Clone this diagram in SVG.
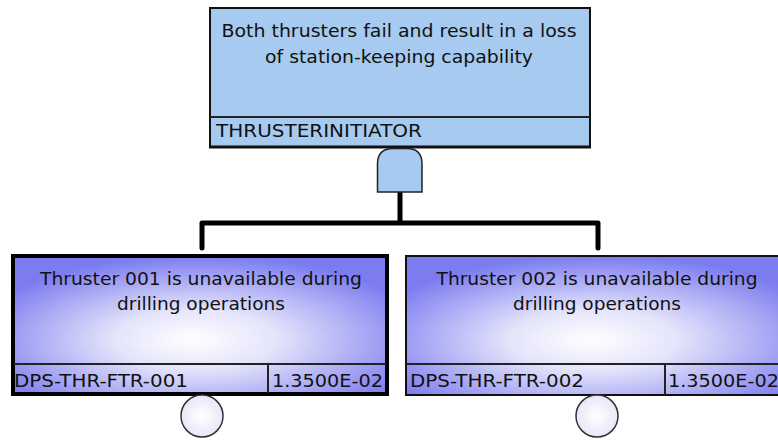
<svg xmlns="http://www.w3.org/2000/svg" width="778" height="440" viewBox="0 0 778 440">
  <defs>
    <radialGradient id="eventFill" cx="0.5" cy="0.62" r="0.62" fx="0.48" fy="0.6">
      <stop offset="0" stop-color="#ffffff"/>
      <stop offset="0.35" stop-color="#e4e4fb"/>
      <stop offset="1" stop-color="#7c7cf0"/>
    </radialGradient>
    <radialGradient id="basicFill" cx="0.5" cy="0.5" r="0.6">
      <stop offset="0" stop-color="#ffffff"/>
      <stop offset="1" stop-color="#e2e2f8"/>
    </radialGradient>
  </defs>
  <style>
    .txt { font-family: "DejaVu Sans", "Liberation Sans", sans-serif; font-size: 18px; fill: #111; }
    .mid { text-anchor: middle; }
    .gateBox { fill: #a6caf0; stroke: #111; stroke-width: 2; }
    .div { stroke: #222; stroke-width: 2; fill: none; }
    .wire { fill: none; stroke: #000; stroke-width: 5; stroke-linejoin: round; stroke-linecap: round; }
    .basic { fill: url(#basicFill); stroke: #333; stroke-width: 1.5; }
  </style>

  <!-- connectors from the AND gate down to the two basic events -->
  <g id="connectors">
    <path class="wire" d="M400,192 V223 M202,248 V223 H598 V248"/>
  </g>

  <!-- top event -->
  <g id="top-event">
    <rect class="gateBox" x="210" y="8" width="380" height="139"/>
    <line x1="209" y1="147" x2="591" y2="147" stroke="#111" stroke-width="3"/>
    <line class="div" x1="210" y1="117" x2="590" y2="117"/>
    <text class="txt mid" x="399" y="37" textLength="355" lengthAdjust="spacingAndGlyphs">Both thrusters fail and result in a loss</text>
    <text class="txt mid" x="399" y="63" textLength="268" lengthAdjust="spacingAndGlyphs">of station-keeping capability</text>
    <text class="txt" x="216" y="137" textLength="206" lengthAdjust="spacingAndGlyphs">THRUSTERINITIATOR</text>
  </g>

  <!-- AND gate -->
  <g id="and-gate">
    <path d="M377.5,192 V164 Q377.5,148.5 393,148.5 H407 Q422,148.5 422,164 V192 Z" fill="#a6caf0" stroke="#222" stroke-width="1.5"/>
  </g>

  <!-- basic event 1 -->
  <g id="event-001">
    <rect x="13" y="256" width="374" height="138" fill="url(#eventFill)" stroke="#000" stroke-width="4"/>
    <line class="div" x1="14" y1="364" x2="386" y2="364"/>
    <line class="div" x1="268" y1="364" x2="268" y2="393"/>
    <text class="txt mid" x="201" y="285" textLength="322" lengthAdjust="spacingAndGlyphs">Thruster 001 is unavailable during</text>
    <text class="txt mid" x="201" y="310" textLength="168" lengthAdjust="spacingAndGlyphs">drilling operations</text>
    <text class="txt" x="14" y="387" textLength="174" lengthAdjust="spacingAndGlyphs">DPS-THR-FTR-001</text>
    <text class="txt" x="272" y="387" textLength="111" lengthAdjust="spacingAndGlyphs">1.3500E-02</text>
    <circle class="basic" cx="202" cy="416" r="21"/>
  </g>

  <!-- basic event 2 -->
  <g id="event-002">
    <rect x="406" y="256" width="385" height="139" fill="url(#eventFill)" stroke="#111" stroke-width="2"/>
    <line class="div" x1="406" y1="364" x2="778" y2="364"/>
    <line class="div" x1="665" y1="364" x2="665" y2="395"/>
    <text class="txt mid" x="597" y="285" textLength="321" lengthAdjust="spacingAndGlyphs">Thruster 002 is unavailable during</text>
    <text class="txt mid" x="597" y="310" textLength="168" lengthAdjust="spacingAndGlyphs">drilling operations</text>
    <text class="txt" x="410" y="387" textLength="174" lengthAdjust="spacingAndGlyphs">DPS-THR-FTR-002</text>
    <text class="txt" x="668" y="387" textLength="111" lengthAdjust="spacingAndGlyphs">1.3500E-02</text>
    <circle class="basic" cx="597" cy="416" r="21"/>
  </g>
</svg>
